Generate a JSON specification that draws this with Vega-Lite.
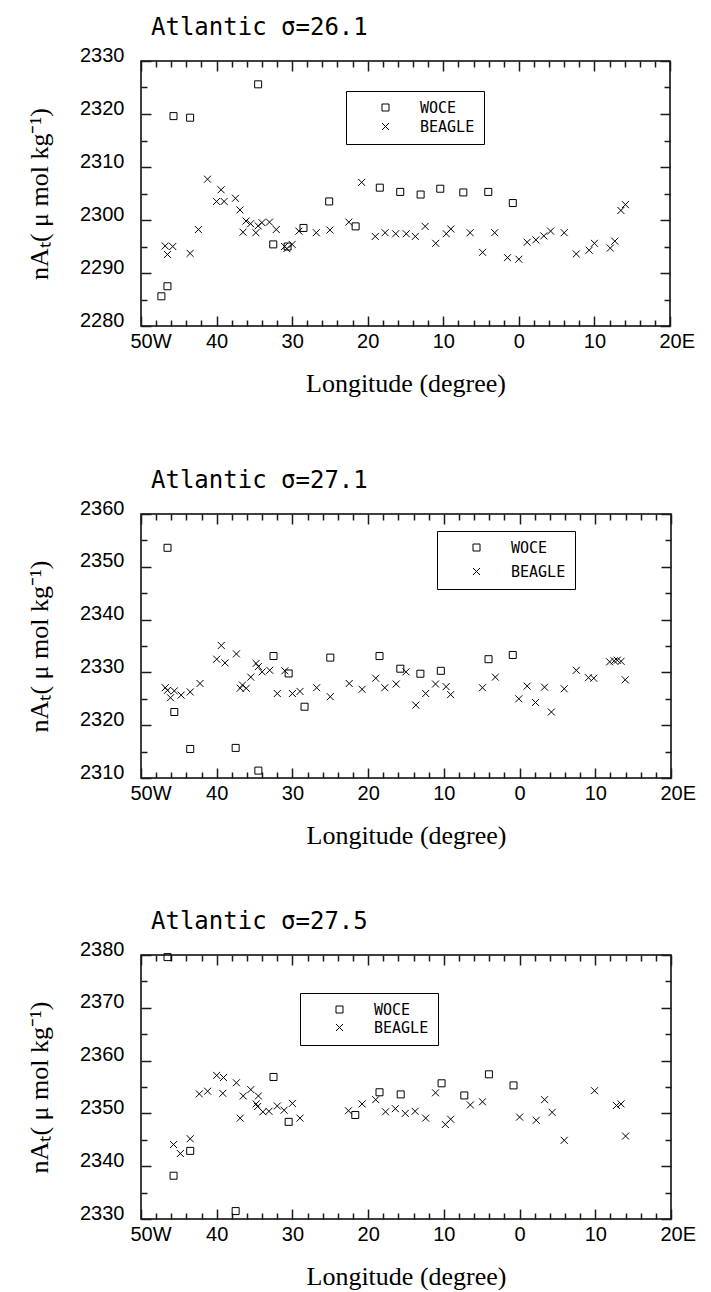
{
  "$schema": "https://vega.github.io/schema/vega-lite/v6.json",
  "background": "white",
  "padding": {"left": 25, "top": 15, "right": 0, "bottom": 0},
  "datasets": {
    "p1": [
      {"lon": -47.3, "nat": 2285.6, "src": "WOCE"}, {"lon": -46.5, "nat": 2287.5, "src": "WOCE"}, {"lon": -45.7, "nat": 2319.6, "src": "WOCE"},
      {"lon": -43.5, "nat": 2319.3, "src": "WOCE"}, {"lon": -34.5, "nat": 2325.6, "src": "WOCE"}, {"lon": -32.5, "nat": 2295.4, "src": "WOCE"},
      {"lon": -30.6, "nat": 2295.0, "src": "WOCE"}, {"lon": -28.5, "nat": 2298.5, "src": "WOCE"}, {"lon": -25.1, "nat": 2303.5, "src": "WOCE"},
      {"lon": -21.6, "nat": 2298.8, "src": "WOCE"}, {"lon": -18.4, "nat": 2306.1, "src": "WOCE"}, {"lon": -15.7, "nat": 2305.3, "src": "WOCE"},
      {"lon": -13.0, "nat": 2304.8, "src": "WOCE"}, {"lon": -10.4, "nat": 2305.9, "src": "WOCE"}, {"lon": -7.35, "nat": 2305.2, "src": "WOCE"},
      {"lon": -4.05, "nat": 2305.3, "src": "WOCE"}, {"lon": -0.8, "nat": 2303.2, "src": "WOCE"},
      {"lon": -46.8, "nat": 2295.1, "src": "BEAGLE"}, {"lon": -46.5, "nat": 2293.5, "src": "BEAGLE"}, {"lon": -45.8, "nat": 2295.0, "src": "BEAGLE"},
      {"lon": -43.5, "nat": 2293.7, "src": "BEAGLE"}, {"lon": -42.4, "nat": 2298.2, "src": "BEAGLE"}, {"lon": -41.2, "nat": 2307.7, "src": "BEAGLE"},
      {"lon": -40.0, "nat": 2303.5, "src": "BEAGLE"}, {"lon": -39.4, "nat": 2305.7, "src": "BEAGLE"}, {"lon": -39.0, "nat": 2303.5, "src": "BEAGLE"},
      {"lon": -37.5, "nat": 2304.1, "src": "BEAGLE"}, {"lon": -36.9, "nat": 2301.9, "src": "BEAGLE"}, {"lon": -36.5, "nat": 2297.7, "src": "BEAGLE"},
      {"lon": -36.1, "nat": 2299.8, "src": "BEAGLE"}, {"lon": -35.5, "nat": 2299.3, "src": "BEAGLE"}, {"lon": -34.8, "nat": 2297.6, "src": "BEAGLE"},
      {"lon": -34.5, "nat": 2298.9, "src": "BEAGLE"}, {"lon": -34.0, "nat": 2299.5, "src": "BEAGLE"}, {"lon": -33.0, "nat": 2299.6, "src": "BEAGLE"},
      {"lon": -32.1, "nat": 2298.2, "src": "BEAGLE"}, {"lon": -31.0, "nat": 2295.0, "src": "BEAGLE"}, {"lon": -30.7, "nat": 2294.6, "src": "BEAGLE"},
      {"lon": -30.0, "nat": 2295.4, "src": "BEAGLE"}, {"lon": -29.1, "nat": 2297.9, "src": "BEAGLE"}, {"lon": -26.8, "nat": 2297.6, "src": "BEAGLE"},
      {"lon": -25.0, "nat": 2298.1, "src": "BEAGLE"}, {"lon": -22.5, "nat": 2299.6, "src": "BEAGLE"}, {"lon": -20.8, "nat": 2307.1, "src": "BEAGLE"},
      {"lon": -19.0, "nat": 2296.9, "src": "BEAGLE"}, {"lon": -17.7, "nat": 2297.6, "src": "BEAGLE"}, {"lon": -16.3, "nat": 2297.4, "src": "BEAGLE"},
      {"lon": -14.9, "nat": 2297.4, "src": "BEAGLE"}, {"lon": -13.7, "nat": 2296.9, "src": "BEAGLE"}, {"lon": -12.4, "nat": 2298.8, "src": "BEAGLE"},
      {"lon": -11.0, "nat": 2295.6, "src": "BEAGLE"}, {"lon": -9.6, "nat": 2297.4, "src": "BEAGLE"}, {"lon": -9.0, "nat": 2298.3, "src": "BEAGLE"},
      {"lon": -6.45, "nat": 2297.6, "src": "BEAGLE"}, {"lon": -4.8, "nat": 2293.9, "src": "BEAGLE"}, {"lon": -3.2, "nat": 2297.6, "src": "BEAGLE"},
      {"lon": -1.5, "nat": 2292.9, "src": "BEAGLE"}, {"lon": 0.0, "nat": 2292.6, "src": "BEAGLE"}, {"lon": 1.1, "nat": 2295.8, "src": "BEAGLE"},
      {"lon": 2.25, "nat": 2296.25, "src": "BEAGLE"}, {"lon": 3.3, "nat": 2297.0, "src": "BEAGLE"}, {"lon": 4.2, "nat": 2297.9, "src": "BEAGLE"},
      {"lon": 6.0, "nat": 2297.6, "src": "BEAGLE"}, {"lon": 7.6, "nat": 2293.6, "src": "BEAGLE"}, {"lon": 9.3, "nat": 2294.3, "src": "BEAGLE"},
      {"lon": 10.0, "nat": 2295.6, "src": "BEAGLE"}, {"lon": 12.1, "nat": 2294.7, "src": "BEAGLE"}, {"lon": 12.7, "nat": 2296.0, "src": "BEAGLE"},
      {"lon": 13.5, "nat": 2301.8, "src": "BEAGLE"}, {"lon": 14.1, "nat": 2302.9, "src": "BEAGLE"}
    ],
    "p2": [
      {"lon": -46.5, "nat": 2353.6, "src": "WOCE"}, {"lon": -45.6, "nat": 2322.5, "src": "WOCE"}, {"lon": -43.5, "nat": 2315.5, "src": "WOCE"},
      {"lon": -37.5, "nat": 2315.7, "src": "WOCE"}, {"lon": -34.5, "nat": 2311.4, "src": "WOCE"}, {"lon": -32.5, "nat": 2333.1, "src": "WOCE"},
      {"lon": -30.5, "nat": 2329.8, "src": "WOCE"}, {"lon": -28.4, "nat": 2323.5, "src": "WOCE"}, {"lon": -25.0, "nat": 2332.8, "src": "WOCE"},
      {"lon": -18.5, "nat": 2333.1, "src": "WOCE"}, {"lon": -15.75, "nat": 2330.7, "src": "WOCE"}, {"lon": -13.1, "nat": 2329.75, "src": "WOCE"},
      {"lon": -10.4, "nat": 2330.3, "src": "WOCE"}, {"lon": -4.1, "nat": 2332.5, "src": "WOCE"}, {"lon": -0.9, "nat": 2333.3, "src": "WOCE"},
      {"lon": -46.8, "nat": 2327.1, "src": "BEAGLE"}, {"lon": -46.5, "nat": 2326.6, "src": "BEAGLE"}, {"lon": -46.1, "nat": 2325.2, "src": "BEAGLE"},
      {"lon": -45.6, "nat": 2326.5, "src": "BEAGLE"}, {"lon": -44.7, "nat": 2325.7, "src": "BEAGLE"}, {"lon": -43.5, "nat": 2326.3, "src": "BEAGLE"},
      {"lon": -42.2, "nat": 2327.9, "src": "BEAGLE"}, {"lon": -40.0, "nat": 2332.5, "src": "BEAGLE"}, {"lon": -39.4, "nat": 2335.1, "src": "BEAGLE"},
      {"lon": -38.9, "nat": 2331.8, "src": "BEAGLE"}, {"lon": -37.4, "nat": 2333.5, "src": "BEAGLE"}, {"lon": -36.9, "nat": 2327.0, "src": "BEAGLE"},
      {"lon": -36.6, "nat": 2327.6, "src": "BEAGLE"}, {"lon": -36.1, "nat": 2327.0, "src": "BEAGLE"}, {"lon": -35.5, "nat": 2329.1, "src": "BEAGLE"},
      {"lon": -34.8, "nat": 2331.7, "src": "BEAGLE"}, {"lon": -34.5, "nat": 2331.1, "src": "BEAGLE"}, {"lon": -34.0, "nat": 2330.1, "src": "BEAGLE"},
      {"lon": -33.0, "nat": 2330.4, "src": "BEAGLE"}, {"lon": -32.0, "nat": 2326.0, "src": "BEAGLE"}, {"lon": -31.0, "nat": 2330.3, "src": "BEAGLE"},
      {"lon": -30.0, "nat": 2326.0, "src": "BEAGLE"}, {"lon": -29.0, "nat": 2326.4, "src": "BEAGLE"}, {"lon": -26.8, "nat": 2327.1, "src": "BEAGLE"},
      {"lon": -25.0, "nat": 2325.4, "src": "BEAGLE"}, {"lon": -22.5, "nat": 2327.9, "src": "BEAGLE"}, {"lon": -20.8, "nat": 2326.8, "src": "BEAGLE"},
      {"lon": -19.0, "nat": 2328.9, "src": "BEAGLE"}, {"lon": -17.8, "nat": 2327.1, "src": "BEAGLE"}, {"lon": -16.3, "nat": 2327.8, "src": "BEAGLE"},
      {"lon": -15.0, "nat": 2330.1, "src": "BEAGLE"}, {"lon": -13.7, "nat": 2323.8, "src": "BEAGLE"}, {"lon": -12.4, "nat": 2326.0, "src": "BEAGLE"},
      {"lon": -11.1, "nat": 2327.8, "src": "BEAGLE"}, {"lon": -9.7, "nat": 2327.3, "src": "BEAGLE"}, {"lon": -9.1, "nat": 2325.8, "src": "BEAGLE"},
      {"lon": -4.9, "nat": 2327.1, "src": "BEAGLE"}, {"lon": -3.2, "nat": 2329.1, "src": "BEAGLE"}, {"lon": -0.1, "nat": 2325.0, "src": "BEAGLE"},
      {"lon": 1.0, "nat": 2327.4, "src": "BEAGLE"}, {"lon": 2.1, "nat": 2324.3, "src": "BEAGLE"}, {"lon": 3.3, "nat": 2327.2, "src": "BEAGLE"},
      {"lon": 4.2, "nat": 2322.5, "src": "BEAGLE"}, {"lon": 5.9, "nat": 2326.9, "src": "BEAGLE"}, {"lon": 7.5, "nat": 2330.4, "src": "BEAGLE"},
      {"lon": 9.1, "nat": 2329.0, "src": "BEAGLE"}, {"lon": 9.8, "nat": 2328.9, "src": "BEAGLE"}, {"lon": 11.9, "nat": 2332.0, "src": "BEAGLE"},
      {"lon": 12.5, "nat": 2332.2, "src": "BEAGLE"}, {"lon": 12.9, "nat": 2332.3, "src": "BEAGLE"}, {"lon": 13.4, "nat": 2332.1, "src": "BEAGLE"},
      {"lon": 13.95, "nat": 2328.6, "src": "BEAGLE"}
    ],
    "p3": [
      {"lon": -46.5, "nat": 2379.6, "src": "WOCE"}, {"lon": -45.7, "nat": 2338.2, "src": "WOCE"}, {"lon": -43.5, "nat": 2342.9, "src": "WOCE"},
      {"lon": -37.5, "nat": 2331.5, "src": "WOCE"}, {"lon": -32.5, "nat": 2356.9, "src": "WOCE"}, {"lon": -30.5, "nat": 2348.4, "src": "WOCE"},
      {"lon": -21.7, "nat": 2349.7, "src": "WOCE"}, {"lon": -18.5, "nat": 2354.0, "src": "WOCE"}, {"lon": -15.7, "nat": 2353.6, "src": "WOCE"},
      {"lon": -10.3, "nat": 2355.7, "src": "WOCE"}, {"lon": -7.3, "nat": 2353.4, "src": "WOCE"}, {"lon": -4.05, "nat": 2357.4, "src": "WOCE"},
      {"lon": -0.8, "nat": 2355.3, "src": "WOCE"},
      {"lon": -45.7, "nat": 2344.1, "src": "BEAGLE"}, {"lon": -44.8, "nat": 2342.4, "src": "BEAGLE"}, {"lon": -43.5, "nat": 2345.2, "src": "BEAGLE"},
      {"lon": -42.3, "nat": 2353.7, "src": "BEAGLE"}, {"lon": -41.2, "nat": 2354.2, "src": "BEAGLE"}, {"lon": -40.0, "nat": 2357.2, "src": "BEAGLE"},
      {"lon": -39.1, "nat": 2356.8, "src": "BEAGLE"}, {"lon": -39.2, "nat": 2353.8, "src": "BEAGLE"}, {"lon": -37.4, "nat": 2355.8, "src": "BEAGLE"},
      {"lon": -36.9, "nat": 2349.1, "src": "BEAGLE"}, {"lon": -36.5, "nat": 2353.3, "src": "BEAGLE"}, {"lon": -35.5, "nat": 2354.5, "src": "BEAGLE"},
      {"lon": -34.5, "nat": 2353.3, "src": "BEAGLE"}, {"lon": -34.8, "nat": 2351.8, "src": "BEAGLE"}, {"lon": -34.6, "nat": 2351.3, "src": "BEAGLE"},
      {"lon": -33.9, "nat": 2350.3, "src": "BEAGLE"}, {"lon": -33.1, "nat": 2350.4, "src": "BEAGLE"}, {"lon": -32.0, "nat": 2351.4, "src": "BEAGLE"},
      {"lon": -31.1, "nat": 2350.6, "src": "BEAGLE"}, {"lon": -30.0, "nat": 2351.9, "src": "BEAGLE"}, {"lon": -29.0, "nat": 2349.1, "src": "BEAGLE"},
      {"lon": -22.6, "nat": 2350.5, "src": "BEAGLE"}, {"lon": -20.8, "nat": 2351.8, "src": "BEAGLE"}, {"lon": -19.0, "nat": 2352.6, "src": "BEAGLE"},
      {"lon": -17.7, "nat": 2350.3, "src": "BEAGLE"}, {"lon": -16.4, "nat": 2350.9, "src": "BEAGLE"}, {"lon": -15.1, "nat": 2350.0, "src": "BEAGLE"},
      {"lon": -13.8, "nat": 2350.4, "src": "BEAGLE"}, {"lon": -12.4, "nat": 2349.1, "src": "BEAGLE"}, {"lon": -11.1, "nat": 2353.9, "src": "BEAGLE"},
      {"lon": -9.8, "nat": 2347.9, "src": "BEAGLE"}, {"lon": -9.1, "nat": 2348.9, "src": "BEAGLE"}, {"lon": -6.5, "nat": 2351.6, "src": "BEAGLE"},
      {"lon": -4.9, "nat": 2352.2, "src": "BEAGLE"}, {"lon": 0.0, "nat": 2349.3, "src": "BEAGLE"}, {"lon": 2.2, "nat": 2348.7, "src": "BEAGLE"},
      {"lon": 3.3, "nat": 2352.6, "src": "BEAGLE"}, {"lon": 4.3, "nat": 2350.2, "src": "BEAGLE"}, {"lon": 5.9, "nat": 2344.9, "src": "BEAGLE"},
      {"lon": 9.9, "nat": 2354.3, "src": "BEAGLE"}, {"lon": 12.8, "nat": 2351.5, "src": "BEAGLE"}, {"lon": 13.4, "nat": 2351.8, "src": "BEAGLE"},
      {"lon": 14.0, "nat": 2345.7, "src": "BEAGLE"}
    ]
  },
  "spacing": 71,
  "resolve": {"scale": {"shape": "independent"}, "legend": {"shape": "independent"}},
  "vconcat": [
    {
      "title": {"text": "Atlantic σ=26.1"},
      "width": 529, "height": 265,
      "data": {"name": "p1"},
      "layer": [
        {
          "mark": {"type": "point", "filled": false, "color": "black", "strokeWidth": 1, "size": 49, "opacity": 1},
          "encoding": {
            "x": {"field": "lon", "type": "quantitative", "scale": {"domain": [-50, 20], "nice": false, "zero": false},
              "axis": {"orient": "bottom", "values": [-50,-40,-30,-20,-10,0,10,20], "ticks": false,
                "labelExpr": "datum.value === -50 ? '50W' : (datum.value === 20 ? '20E' : format(abs(datum.value), 'd'))",
                "labelAlign": {"condition": {"test": "datum.value === -50 || datum.value === 20", "value": "left"}, "value": "center"},
                "labelOffset": {"condition": {"test": "datum.value === -50 || datum.value === 20", "value": -11}, "value": 0},
                "labelPadding": 5, "labelBaseline": "top", "title": "Longitude (degree)", "titlePadding": 19}},
            "y": {"field": "nat", "type": "quantitative", "scale": {"domain": [2280, 2330], "nice": false, "zero": false},
              "axis": {"orient": "left", "values": [2280,2290,2300,2310,2320,2330], "ticks": false, "format": "d",
                "labelPadding": 17, "labelBaseline": "alphabetic", "title": "nAₜ( μ mol kg⁻¹)", "titlePadding": 27}},
            "shape": {"field": "src", "type": "nominal", "scale": {"domain": ["WOCE", "BEAGLE"], "range": ["square", "M-1,-1L1,1M1,-1L-1,1"]},
              "legend": {"orient": "none", "legendX": 205, "legendY": 30, "rowPadding": 3}}
          }
        },
        {
          "mark": {"type": "point", "opacity": 0},
          "encoding": {
            "x": {"field": "lon", "type": "quantitative", "scale": {"domain": [-50, 20], "nice": false, "zero": false},
              "axis": {"orient": "top", "values": [-50,-40,-30,-20,-10,0,10,20], "tickColor": "#1a1a1a", "tickSize": 10, "offset": -10, "labels": false, "title": null}},
            "y": {"field": "nat", "type": "quantitative", "scale": {"domain": [2280, 2330], "nice": false, "zero": false},
              "axis": {"orient": "right", "values": [2280,2290,2300,2310,2320,2330], "tickColor": "#1a1a1a", "tickSize": 10, "offset": -10, "labels": false, "title": null}}
          }
        },
        {
          "mark": {"type": "point", "opacity": 0},
          "encoding": {
            "x": {"field": "lon", "type": "quantitative", "scale": {"domain": [-50, 20], "nice": false, "zero": false},
              "axis": {"orient": "bottom", "values": [-50,-40,-30,-20,-10,0,10,20], "tickColor": "#1a1a1a", "tickSize": 10, "offset": -10, "labels": false, "title": null}},
            "y": {"field": "nat", "type": "quantitative", "scale": {"domain": [2280, 2330], "nice": false, "zero": false},
              "axis": {"orient": "left", "values": [2280,2290,2300,2310,2320,2330], "tickColor": "#1a1a1a", "tickSize": 10, "offset": -10, "labels": false, "title": null}}
          }
        },
        {
          "mark": {"type": "point", "opacity": 0},
          "encoding": {
            "x": {"field": "lon", "type": "quantitative", "scale": {"domain": [-50, 20], "nice": false, "zero": false},
              "axis": {"orient": "bottom", "values": [-48,-46,-44,-42,-38,-36,-34,-32,-28,-26,-24,-22,-18,-16,-14,-12,-8,-6,-4,-2,2,4,6,8,12,14,16,18], "tickColor": "#1a1a1a", "tickSize": 6, "offset": -6, "labels": false, "title": null}},
            "y": {"field": "nat", "type": "quantitative", "scale": {"domain": [2280, 2330], "nice": false, "zero": false},
              "axis": {"orient": "left", "values": [2285,2295,2305,2315,2325], "tickColor": "#1a1a1a", "tickSize": 6, "offset": -6, "labels": false, "title": null}}
          }
        },
        {
          "mark": {"type": "point", "opacity": 0},
          "encoding": {
            "x": {"field": "lon", "type": "quantitative", "scale": {"domain": [-50, 20], "nice": false, "zero": false},
              "axis": {"orient": "top", "values": [-48,-46,-44,-42,-38,-36,-34,-32,-28,-26,-24,-22,-18,-16,-14,-12,-8,-6,-4,-2,2,4,6,8,12,14,16,18], "tickColor": "#1a1a1a", "tickSize": 6, "offset": -6, "labels": false, "title": null}},
            "y": {"field": "nat", "type": "quantitative", "scale": {"domain": [2280, 2330], "nice": false, "zero": false},
              "axis": {"orient": "right", "values": [2285,2295,2305,2315,2325], "tickColor": "#1a1a1a", "tickSize": 6, "offset": -6, "labels": false, "title": null}}
          }
        }
      ],
      "resolve": {"axis": {"x": "independent", "y": "independent"}}
    },
    {
      "spacing": 60,
      "resolve": {"scale": {"shape": "independent"}, "legend": {"shape": "independent"}},
      "vconcat": [
        {
          "title": {"text": "Atlantic σ=27.1"},
          "width": 530, "height": 264,
          "data": {"name": "p2"},
          "layer": [
            {
              "mark": {"type": "point", "filled": false, "color": "black", "strokeWidth": 1, "size": 49, "opacity": 1},
              "encoding": {
                "x": {"field": "lon", "type": "quantitative", "scale": {"domain": [-50, 20], "nice": false, "zero": false},
                  "axis": {"orient": "bottom", "values": [-50,-40,-30,-20,-10,0,10,20], "ticks": false,
                    "labelExpr": "datum.value === -50 ? '50W' : (datum.value === 20 ? '20E' : format(abs(datum.value), 'd'))",
                    "labelAlign": {"condition": {"test": "datum.value === -50 || datum.value === 20", "value": "left"}, "value": "center"},
                    "labelOffset": {"condition": {"test": "datum.value === -50 || datum.value === 20", "value": -11}, "value": 0},
                    "labelPadding": 5, "labelBaseline": "top", "title": "Longitude (degree)", "titlePadding": 19}},
                "y": {"field": "nat", "type": "quantitative", "scale": {"domain": [2310, 2360], "nice": false, "zero": false},
                  "axis": {"orient": "left", "values": [2310,2320,2330,2340,2350,2360], "ticks": false, "format": "d",
                    "labelPadding": 17, "labelBaseline": "alphabetic", "title": "nAₜ( μ mol kg⁻¹)", "titlePadding": 27}},
                "shape": {"field": "src", "type": "nominal", "scale": {"domain": ["WOCE", "BEAGLE"], "range": ["square", "M-1,-1L1,1M1,-1L-1,1"]},
                  "legend": {"orient": "none", "legendX": 296, "legendY": 17, "rowPadding": 8}}
              }
            },
            {
              "mark": {"type": "point", "opacity": 0},
              "encoding": {
                "x": {"field": "lon", "type": "quantitative", "scale": {"domain": [-50, 20], "nice": false, "zero": false},
                  "axis": {"orient": "top", "values": [-50,-40,-30,-20,-10,0,10,20], "tickColor": "#1a1a1a", "tickSize": 10, "offset": -10, "labels": false, "title": null}},
                "y": {"field": "nat", "type": "quantitative", "scale": {"domain": [2310, 2360], "nice": false, "zero": false},
                  "axis": {"orient": "right", "values": [2310,2320,2330,2340,2350,2360], "tickColor": "#1a1a1a", "tickSize": 10, "offset": -10, "labels": false, "title": null}}
              }
            },
            {
              "mark": {"type": "point", "opacity": 0},
              "encoding": {
                "x": {"field": "lon", "type": "quantitative", "scale": {"domain": [-50, 20], "nice": false, "zero": false},
                  "axis": {"orient": "bottom", "values": [-50,-40,-30,-20,-10,0,10,20], "tickColor": "#1a1a1a", "tickSize": 10, "offset": -10, "labels": false, "title": null}},
                "y": {"field": "nat", "type": "quantitative", "scale": {"domain": [2310, 2360], "nice": false, "zero": false},
                  "axis": {"orient": "left", "values": [2310,2320,2330,2340,2350,2360], "tickColor": "#1a1a1a", "tickSize": 10, "offset": -10, "labels": false, "title": null}}
              }
            },
            {
              "mark": {"type": "point", "opacity": 0},
              "encoding": {
                "x": {"field": "lon", "type": "quantitative", "scale": {"domain": [-50, 20], "nice": false, "zero": false},
                  "axis": {"orient": "bottom", "values": [-48,-46,-44,-42,-38,-36,-34,-32,-28,-26,-24,-22,-18,-16,-14,-12,-8,-6,-4,-2,2,4,6,8,12,14,16,18], "tickColor": "#1a1a1a", "tickSize": 6, "offset": -6, "labels": false, "title": null}},
                "y": {"field": "nat", "type": "quantitative", "scale": {"domain": [2310, 2360], "nice": false, "zero": false},
                  "axis": {"orient": "left", "values": [2315,2325,2335,2345,2355], "tickColor": "#1a1a1a", "tickSize": 6, "offset": -6, "labels": false, "title": null}}
              }
            },
            {
              "mark": {"type": "point", "opacity": 0},
              "encoding": {
                "x": {"field": "lon", "type": "quantitative", "scale": {"domain": [-50, 20], "nice": false, "zero": false},
                  "axis": {"orient": "top", "values": [-48,-46,-44,-42,-38,-36,-34,-32,-28,-26,-24,-22,-18,-16,-14,-12,-8,-6,-4,-2,2,4,6,8,12,14,16,18], "tickColor": "#1a1a1a", "tickSize": 6, "offset": -6, "labels": false, "title": null}},
                "y": {"field": "nat", "type": "quantitative", "scale": {"domain": [2310, 2360], "nice": false, "zero": false},
                  "axis": {"orient": "right", "values": [2315,2325,2335,2345,2355], "tickColor": "#1a1a1a", "tickSize": 6, "offset": -6, "labels": false, "title": null}}
              }
            }
          ],
          "resolve": {"axis": {"x": "independent", "y": "independent"}}
        },
        {
          "title": {"text": "Atlantic σ=27.5"},
          "width": 530, "height": 264,
          "data": {"name": "p3"},
          "layer": [
            {
              "mark": {"type": "point", "filled": false, "color": "black", "strokeWidth": 1, "size": 49, "opacity": 1},
              "encoding": {
                "x": {"field": "lon", "type": "quantitative", "scale": {"domain": [-50, 20], "nice": false, "zero": false},
                  "axis": {"orient": "bottom", "values": [-50,-40,-30,-20,-10,0,10,20], "ticks": false,
                    "labelExpr": "datum.value === -50 ? '50W' : (datum.value === 20 ? '20E' : format(abs(datum.value), 'd'))",
                    "labelAlign": {"condition": {"test": "datum.value === -50 || datum.value === 20", "value": "left"}, "value": "center"},
                    "labelOffset": {"condition": {"test": "datum.value === -50 || datum.value === 20", "value": -11}, "value": 0},
                    "labelPadding": 5, "labelBaseline": "top", "title": "Longitude (degree)", "titlePadding": 19}},
                "y": {"field": "nat", "type": "quantitative", "scale": {"domain": [2330, 2380], "nice": false, "zero": false},
                  "axis": {"orient": "left", "values": [2330,2340,2350,2360,2370,2380], "ticks": false, "format": "d",
                    "labelPadding": 17, "labelBaseline": "alphabetic", "title": "nAₜ( μ mol kg⁻¹)", "titlePadding": 27}},
                "shape": {"field": "src", "type": "nominal", "scale": {"domain": ["WOCE", "BEAGLE"], "range": ["square", "M-1,-1L1,1M1,-1L-1,1"]},
                  "legend": {"orient": "none", "legendX": 159, "legendY": 38, "rowPadding": 2}}
              }
            },
            {
              "mark": {"type": "point", "opacity": 0},
              "encoding": {
                "x": {"field": "lon", "type": "quantitative", "scale": {"domain": [-50, 20], "nice": false, "zero": false},
                  "axis": {"orient": "top", "values": [-50,-40,-30,-20,-10,0,10,20], "tickColor": "#1a1a1a", "tickSize": 10, "offset": -10, "labels": false, "title": null}},
                "y": {"field": "nat", "type": "quantitative", "scale": {"domain": [2330, 2380], "nice": false, "zero": false},
                  "axis": {"orient": "right", "values": [2330,2340,2350,2360,2370,2380], "tickColor": "#1a1a1a", "tickSize": 10, "offset": -10, "labels": false, "title": null}}
              }
            },
            {
              "mark": {"type": "point", "opacity": 0},
              "encoding": {
                "x": {"field": "lon", "type": "quantitative", "scale": {"domain": [-50, 20], "nice": false, "zero": false},
                  "axis": {"orient": "bottom", "values": [-50,-40,-30,-20,-10,0,10,20], "tickColor": "#1a1a1a", "tickSize": 10, "offset": -10, "labels": false, "title": null}},
                "y": {"field": "nat", "type": "quantitative", "scale": {"domain": [2330, 2380], "nice": false, "zero": false},
                  "axis": {"orient": "left", "values": [2330,2340,2350,2360,2370,2380], "tickColor": "#1a1a1a", "tickSize": 10, "offset": -10, "labels": false, "title": null}}
              }
            },
            {
              "mark": {"type": "point", "opacity": 0},
              "encoding": {
                "x": {"field": "lon", "type": "quantitative", "scale": {"domain": [-50, 20], "nice": false, "zero": false},
                  "axis": {"orient": "bottom", "values": [-48,-46,-44,-42,-38,-36,-34,-32,-28,-26,-24,-22,-18,-16,-14,-12,-8,-6,-4,-2,2,4,6,8,12,14,16,18], "tickColor": "#1a1a1a", "tickSize": 6, "offset": -6, "labels": false, "title": null}},
                "y": {"field": "nat", "type": "quantitative", "scale": {"domain": [2330, 2380], "nice": false, "zero": false},
                  "axis": {"orient": "left", "values": [2335,2345,2355,2365,2375], "tickColor": "#1a1a1a", "tickSize": 6, "offset": -6, "labels": false, "title": null}}
              }
            },
            {
              "mark": {"type": "point", "opacity": 0},
              "encoding": {
                "x": {"field": "lon", "type": "quantitative", "scale": {"domain": [-50, 20], "nice": false, "zero": false},
                  "axis": {"orient": "top", "values": [-48,-46,-44,-42,-38,-36,-34,-32,-28,-26,-24,-22,-18,-16,-14,-12,-8,-6,-4,-2,2,4,6,8,12,14,16,18], "tickColor": "#1a1a1a", "tickSize": 6, "offset": -6, "labels": false, "title": null}},
                "y": {"field": "nat", "type": "quantitative", "scale": {"domain": [2330, 2380], "nice": false, "zero": false},
                  "axis": {"orient": "right", "values": [2335,2345,2355,2365,2375], "tickColor": "#1a1a1a", "tickSize": 6, "offset": -6, "labels": false, "title": null}}
              }
            }
          ],
          "resolve": {"axis": {"x": "independent", "y": "independent"}}
        }
      ]
    }
  ],
  "config": {
    "view": {"stroke": "black", "strokeWidth": 1.5},
    "axis": {
      "domain": false, "grid": false, "tickWidth": 1.5, "tickOpacity": 1,
      "labelFont": "Liberation Sans", "labelFontSize": 20, "labelColor": "black",
      "labelFlush": false, "labelOverlap": false, "labelBound": false,
      "titleFont": "Liberation Serif", "titleFontSize": 26, "titleFontWeight": "normal", "titleColor": "black"
    },
    "title": {"font": "DejaVu Sans Mono", "fontSize": 24, "fontWeight": "normal", "color": "black", "anchor": "start", "frame": "group", "dx": 10, "baseline": "alphabetic", "offset": 5},
    "legend": {
      "strokeColor": "black", "fillColor": "white", "padding": 9, "title": null,
      "labelFont": "DejaVu Sans Mono", "labelFontSize": 15, "labelColor": "black",
      "symbolOffset": 23, "labelOffset": 27, "symbolSize": 49, "symbolStrokeWidth": 1, "symbolStrokeColor": "black", "symbolFillColor": "transparent"
    }
  }
}
